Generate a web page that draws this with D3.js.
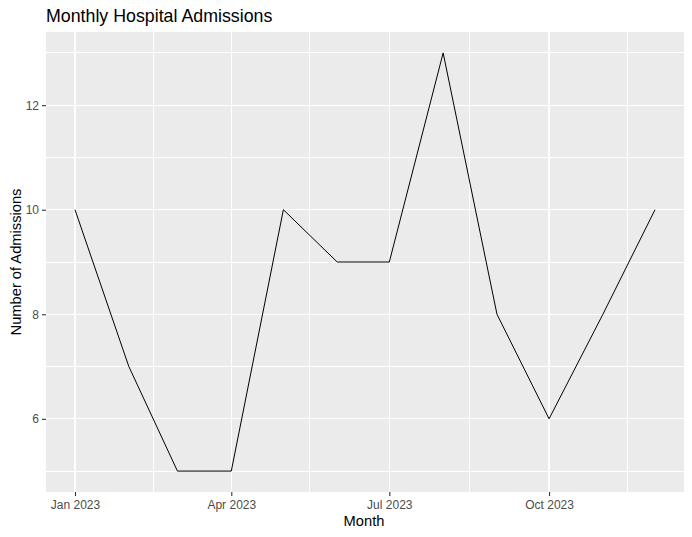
<!DOCTYPE html>
<html><head><meta charset="utf-8">
<script src="https://cdn.jsdelivr.net/npm/d3@7"></script>
<style>body{margin:0;background:#fff}svg{display:block}text{font-family:"Liberation Sans",Arial,sans-serif}</style>
</head><body>
<svg id="c" width="692" height="537"></svg>
<script>
const months = ["2023-01-01","2023-02-01","2023-03-01","2023-04-01","2023-05-01","2023-06-01","2023-07-01","2023-08-01","2023-09-01","2023-10-01","2023-11-01","2023-12-01"];
const admissions = [10,7,5,5,10,9,9,13,8,6,8,10];
const xTickDates = ["2023-01-01","2023-04-01","2023-07-01","2023-10-01"];
const xTickLabels = ["Jan 2023","Apr 2023","Jul 2023","Oct 2023"];
const xMinorDates = ["2023-02-15","2023-05-16","2023-08-16","2023-11-15"];
const yTicks = [6,8,10,12];
const yMinor = [5,7,9,11,13];

const parse = d3.utcParse("%Y-%m-%d");
const data = months.map((m,i)=>({date:parse(m), v:admissions[i]}));
const svg = d3.select("#c");
const L=46, R=684, T=32, B=492;
const d0 = parse(months[0]), d1 = parse(months[months.length-1]);
const span = d1 - d0;
const x = d3.scaleUtc().domain([new Date(+d0 - span*0.05), new Date(+d1 + span*0.05)]).range([L,R]);
const yMin = d3.min(admissions), yMax = d3.max(admissions), ys = yMax-yMin;
const y = d3.scaleLinear().domain([yMin-ys*0.05, yMax+ys*0.05]).range([B,T]);

svg.append("rect").attr("x",L).attr("y",T).attr("width",R-L).attr("height",B-T).attr("fill","#EBEBEB");
const g = svg.append("g").attr("shape-rendering","crispEdges");
yMinor.forEach(v=>g.append("line").attr("x1",L).attr("x2",R).attr("y1",y(v)).attr("y2",y(v)).attr("stroke","#fff").attr("stroke-width",1));
xMinorDates.forEach(d=>g.append("line").attr("x1",x(parse(d))).attr("x2",x(parse(d))).attr("y1",T).attr("y2",B).attr("stroke","#fff").attr("stroke-width",1));
yTicks.forEach(v=>g.append("line").attr("x1",L).attr("x2",R).attr("y1",y(v)).attr("y2",y(v)).attr("stroke","#fff").attr("stroke-width",1.3));
xTickDates.forEach(d=>g.append("line").attr("x1",x(parse(d))).attr("x2",x(parse(d))).attr("y1",T).attr("y2",B).attr("stroke","#fff").attr("stroke-width",1.3));

svg.append("path").datum(data)
  .attr("d", d3.line().x(d=>x(d.date)).y(d=>y(d.v)))
  .attr("fill","none").attr("stroke","#000").attr("stroke-width",1);

// x axis
const xa = svg.append("g").attr("transform",`translate(0,${B})`)
  .call(d3.axisBottom(x).tickValues(xTickDates.map(parse)).tickFormat((d,i)=>xTickLabels[i]).tickSize(4).tickPadding(4));
xa.select(".domain").remove();
xa.selectAll("line").attr("stroke","#333333").attr("stroke-width",1.1);
xa.selectAll("text").attr("fill","#4D4D4D").attr("font-size","12px").attr("font-family","Liberation Sans, Arial, sans-serif");

const ya = svg.append("g").attr("transform",`translate(${L},0)`)
  .call(d3.axisLeft(y).tickValues(yTicks).tickFormat(d3.format("d")).tickSize(4).tickPadding(3));
ya.select(".domain").remove();
ya.selectAll("line").attr("stroke","#333333").attr("stroke-width",1.1);
ya.selectAll("text").attr("fill","#4D4D4D").attr("font-size","12px").attr("font-family","Liberation Sans, Arial, sans-serif");

svg.append("text").attr("x",364).attr("y",526).attr("text-anchor","middle").attr("font-size","14.7px").attr("fill","#000").text("Month");
svg.append("text").attr("transform",`translate(21,${(T+B)/2}) rotate(-90)`).attr("text-anchor","middle").attr("font-size","14.7px").attr("fill","#000").text("Number of Admissions");
svg.append("text").attr("x",L).attr("y",22).attr("font-size","17.8px").attr("fill","#000").text("Monthly Hospital Admissions");
</script>
</body></html>
